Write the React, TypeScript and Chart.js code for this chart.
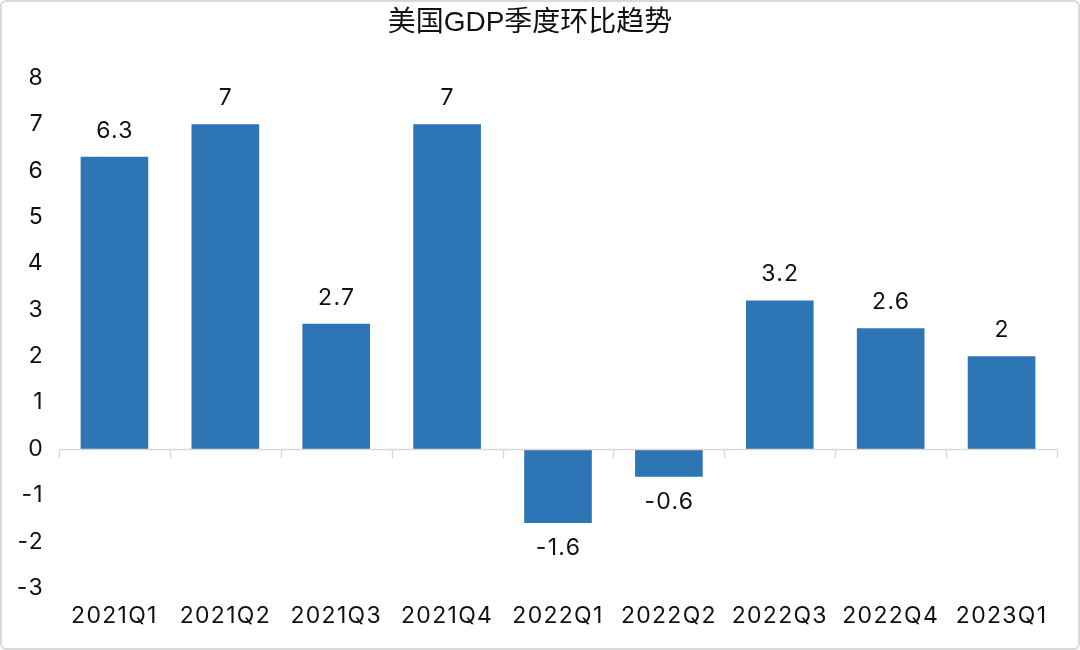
import React, { useEffect, useRef } from "react";
import { Chart, registerables } from "chart.js";

Chart.register(...registerables);

const TITLE = "美国GDP季度环比趋势";
const categories = ["2021Q1", "2021Q2", "2021Q3", "2021Q4", "2022Q1", "2022Q2", "2022Q3", "2022Q4", "2023Q1"];
const growth = [6.3, 7, 2.7, 7, -1.6, -0.6, 3.2, 2.6, 2];
const yTicks = [-3, -2, -1, 0, 1, 2, 3, 4, 5, 6, 7, 8];

const FONT = "Inter, 'Liberation Sans', Arial, 'Noto Sans CJK SC', sans-serif";
const TITLE_FONT = "'Liberation Sans', Arial, 'Noto Sans CJK SC', sans-serif";
const BAR_COLOR = "#2E75B6";
const SPACING = "1.3px";

const overlayPlugin = {
  id: "overlay",
  beforeDraw(chart: any) {
    (chart.ctx as any).letterSpacing = SPACING;
  },
  afterDatasetsDraw(chart: any) {
    const ctx = chart.ctx;
    const x = chart.scales.x;
    const y = chart.scales.y;
    const area = chart.chartArea;
    const zeroY = Math.round(y.getPixelForValue(0)) + 0.5;
    ctx.save();
    ctx.strokeStyle = "#d9d9d9";
    ctx.lineWidth = 1.5;
    ctx.beginPath();
    ctx.moveTo(area.left, zeroY);
    ctx.lineTo(area.right, zeroY);
    const n = categories.length;
    const step = x.getPixelForValue(1) - x.getPixelForValue(0);
    for (let i = 0; i <= n; i++) {
      const px = x.getPixelForValue(0) - step / 2 + i * step;
      const rx = Math.round(px) + 0.5;
      ctx.moveTo(rx, zeroY);
      ctx.lineTo(rx, zeroY + 9);
    }
    ctx.stroke();

    ctx.letterSpacing = SPACING;
    ctx.fillStyle = "#111";
    ctx.font = `23px ${FONT}`;
    ctx.textAlign = "center";
    ctx.textBaseline = "middle";
    const meta = chart.getDatasetMeta(0);
    meta.data.forEach((bar: any, i: number) => {
      const v = growth[i];
      const ty = v >= 0 ? bar.y - 26 : bar.y + 25;
      ctx.fillText(String(v), bar.x + 0.5, ty);
    });

    ctx.letterSpacing = "0px";
    ctx.font = `28px ${TITLE_FONT}`;
    ctx.fillStyle = "#111";
    ctx.fillText(TITLE, 530, 23);
    ctx.restore();
  },
};

export default function App() {
  const canvasRef = useRef<HTMLCanvasElement | null>(null);

  useEffect(() => {
    document.body.style.margin = "0";
    const canvas = canvasRef.current;
    if (!canvas) return;
    const chart = new Chart(canvas, {
      type: "bar",
      data: {
        labels: categories,
        datasets: [
          {
            data: growth,
            backgroundColor: BAR_COLOR,
            borderWidth: 0,
            categoryPercentage: 1,
            barPercentage: 0.61,
          },
        ],
      },
      options: {
        animation: false,
        responsive: false,
        maintainAspectRatio: false,
        layout: { padding: { top: 78, right: 23, bottom: 0, left: 0 } },
        plugins: {
          legend: { display: false },
          title: { display: false },
          tooltip: { enabled: false },
        },
        scales: {
          x: {
            grid: { display: false, drawTicks: false },
            border: { display: false },
            ticks: { color: "#111", font: { size: 23, family: FONT }, padding: 14, maxRotation: 0 },
            afterFit: (s: any) => {
              s.height = 62;
            },
          },
          y: {
            min: -3,
            max: 8,
            afterBuildTicks: (s: any) => {
              s.ticks = yTicks.map((v) => ({ value: v }));
            },
            grid: { display: false, drawTicks: false },
            border: { display: false },
            ticks: { color: "#111", font: { size: 23, family: FONT }, padding: 15 },
            afterFit: (s: any) => {
              s.width = 59;
            },
          },
        },
      },
      plugins: [overlayPlugin],
    });
    return () => chart.destroy();
  }, []);

  return (
    <div style={{ position: "relative", width: 1080, height: 650 }}>
      <canvas ref={canvasRef} width={1080} height={650} style={{ display: "block" }} />
      <div
        style={{
          position: "absolute",
          left: 0,
          top: 0,
          width: 1080,
          height: 650,
          boxSizing: "border-box",
          border: "2px solid #d9d9d9",
          borderRadius: 6,
          pointerEvents: "none",
        }}
      />
    </div>
  );
}
